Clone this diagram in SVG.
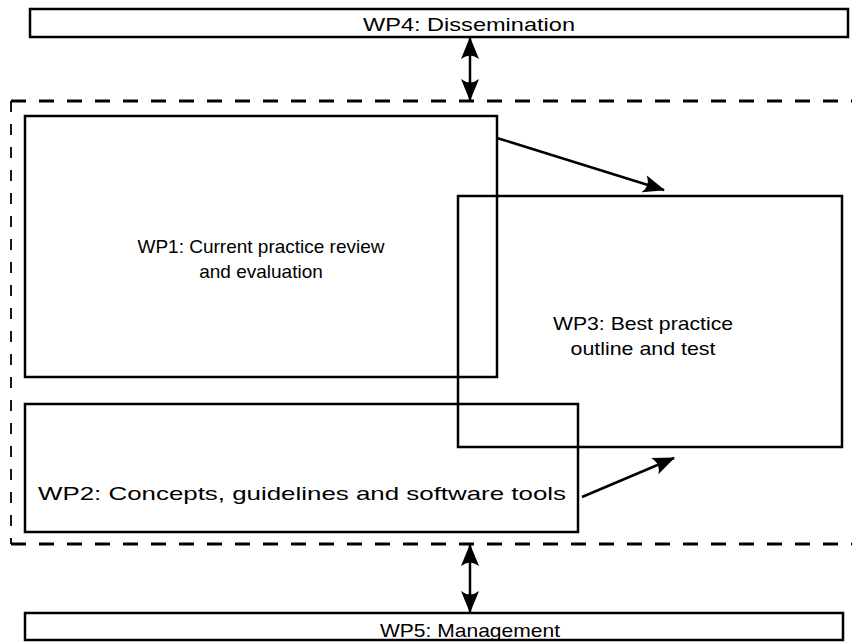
<svg xmlns="http://www.w3.org/2000/svg" width="852" height="642" viewBox="0 0 852 642">
<style>
.box{fill:none;stroke:#000;stroke-width:2.5}
.t{font-family:"Liberation Sans",Arial,sans-serif;font-size:19px;fill:#000;text-anchor:middle}
.c{stroke:#000;stroke-width:2.5;fill:none}
.dh{stroke:#000;stroke-width:3;stroke-dasharray:15 13;fill:none}
.dv{stroke:#000;stroke-width:1.8;stroke-dasharray:11 12;fill:none}
</style>
<defs>
<marker id="ah" viewBox="0 0 22 18" refX="21" refY="9" markerWidth="22" markerHeight="18" markerUnits="userSpaceOnUse" orient="auto-start-reverse">
<path d="M0,0 L22,9 L0,18 Q7,9 0,0 Z" fill="#000"/>
</marker>
</defs>
<rect width="852" height="642" fill="#fff"/>
<g id="frame">
<path class="dh" d="M11,101 H852"/>
<path class="dh" d="M11,544 H852"/>
<path class="dv" d="M11,101 V544"/>
</g>
<g id="wp4"><rect class="box" x="30" y="9" width="818" height="28"/><text class="t" x="469" y="31" textLength="212" lengthAdjust="spacingAndGlyphs">WP4: Dissemination</text></g>
<g id="wp1"><rect class="box" x="25" y="116" width="472" height="261"/><text class="t" x="261" y="253">WP1: Current practice review</text><text class="t" x="261" y="278">and evaluation</text></g>
<g id="wp3"><rect class="box" x="458" y="196" width="384" height="251"/><text class="t" x="643" y="330" textLength="180" lengthAdjust="spacingAndGlyphs">WP3: Best practice</text><text class="t" x="643" y="355" textLength="145" lengthAdjust="spacingAndGlyphs">outline and test</text></g>
<g id="wp2"><rect class="box" x="25" y="404" width="553" height="128"/><text class="t" x="302" y="500" textLength="528" lengthAdjust="spacingAndGlyphs">WP2: Concepts, guidelines and software tools</text></g>
<g id="wp5"><rect class="box" x="25" y="613" width="818" height="27"/><text class="t" x="470" y="637" textLength="180" lengthAdjust="spacingAndGlyphs">WP5: Management</text></g>
<g id="connectors">
<line class="c" x1="470" y1="38" x2="470" y2="100" marker-start="url(#ah)" marker-end="url(#ah)"/>
<line class="c" x1="470" y1="545" x2="470" y2="612" marker-start="url(#ah)" marker-end="url(#ah)"/>
<line class="c" x1="497" y1="138" x2="664" y2="190" marker-end="url(#ah)"/>
<line class="c" x1="582" y1="497" x2="674" y2="458" marker-end="url(#ah)"/>
</g>
</svg>
